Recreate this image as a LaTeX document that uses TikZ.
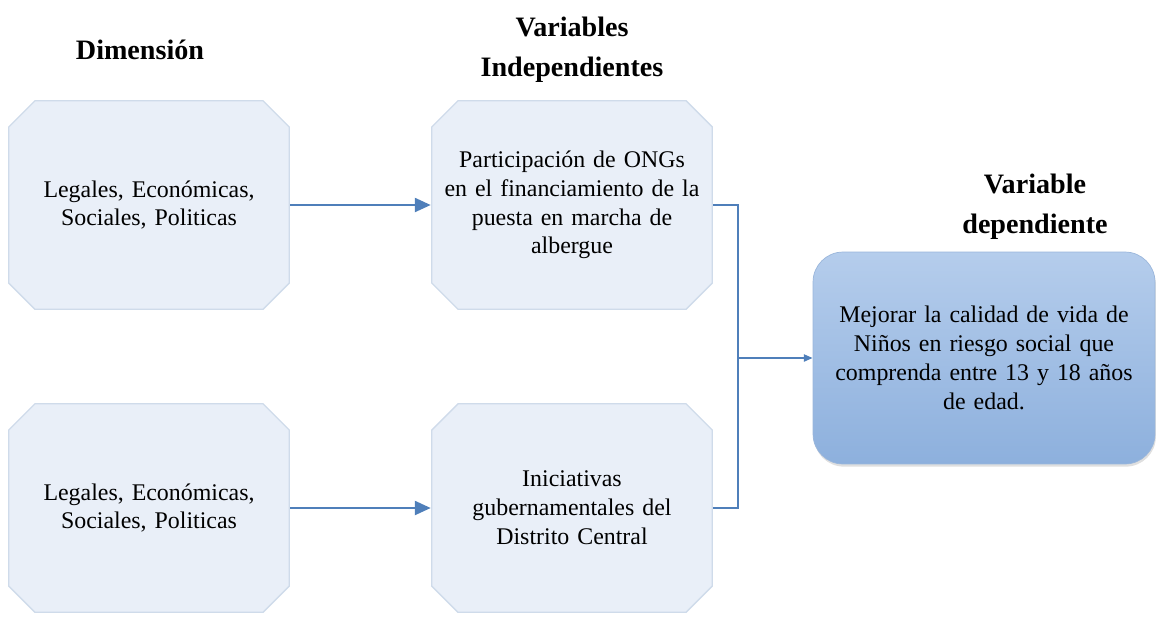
\documentclass[tikz,border=0pt]{standalone}
\usepackage{fontspec}
\setmainfont{Liberation Serif}
\usetikzlibrary{arrows.meta,shadows}
\definecolor{boxfill}{HTML}{E9EFF8}
\definecolor{boxline}{HTML}{CFDBEA}
\definecolor{deptop}{HTML}{B5CDEC}
\definecolor{depbot}{HTML}{8DB0DD}
\definecolor{depline}{HTML}{9AB6DB}
\definecolor{linkblue}{HTML}{4F7FBA}
\tikzset{
  dimbox/.style={rectangle, minimum width=5.64cm, minimum height=4.2cm,
    inner sep=0pt, align=center, text width=5.2cm,
    font=\fontsize{13.6}{16.4}\selectfont,
    path picture={
      \filldraw[fill=boxfill, draw=boxline, line width=0.8pt]
        ([xshift=0.54cm,yshift=-0.4pt]path picture bounding box.north west)
        -- ([xshift=-0.54cm,yshift=-0.4pt]path picture bounding box.north east)
        -- ([xshift=-0.4pt,yshift=-0.54cm]path picture bounding box.north east)
        -- ([xshift=-0.4pt,yshift=0.54cm]path picture bounding box.south east)
        -- ([xshift=-0.54cm,yshift=0.4pt]path picture bounding box.south east)
        -- ([xshift=0.54cm,yshift=0.4pt]path picture bounding box.south west)
        -- ([xshift=0.4pt,yshift=0.54cm]path picture bounding box.south west)
        -- ([xshift=0.4pt,yshift=-0.54cm]path picture bounding box.north west)
        -- cycle;
    }},
  depbox/.style={rectangle, rounded corners=0.6cm, draw=depline,
    top color=deptop, bottom color=depbot, minimum width=6.84cm,
    minimum height=4.24cm, inner sep=0pt, align=center, text width=6.2cm,
    font=\fontsize{13.6}{16.4}\selectfont,
    drop shadow={shadow xshift=0.5pt, shadow yshift=-1.5pt, opacity=0.25}},
  heading/.style={align=center, font=\fontsize{16}{22.7}\selectfont\bfseries},
  link/.style={draw=linkblue, line width=1.1pt},
  linkarrow/.style={link, -{Triangle[length=9pt,width=8pt]}},
  smallarrow/.style={link, -{Triangle[length=5pt,width=4pt]}}
}
\begin{document}
\begin{tikzpicture}[x=0.02cm,y=-0.02cm]
  \useasboundingbox (0,0) rectangle (1156,619);
  % column headings
  \node[heading] (hdim) at (140,50) {Dimensión};
  \node[heading] (hind) at (572,50) {Variables\\Independientes};
  \node[heading] (hdep) at (1035,207) {Variable\\dependiente};
  % boxes
  \node[dimbox] (dimtop) at (149,205) {Legales, Económicas,\\Sociales, Politicas};
  \node[dimbox] (dimbot) at (149,508) {Legales, Económicas,\\Sociales, Politicas};
  \node[dimbox] (ong) at (572,205) {Participación de ONGs\\en el financiamiento de la\\puesta en marcha de\\albergue};
  \node[dimbox] (gob) at (572,508) {Iniciativas\\gubernamentales del\\Distrito Central};
  \node[depbox] (dep) at (984,358) {Mejorar la calidad de vida de\\Niños en riesgo social que\\comprenda entre 13 y 18 años\\de edad.};
  % connectors
  \coordinate (join) at (738,358);
  \draw[linkarrow] (dimtop) -- (ong);
  \draw[linkarrow] (dimbot) -- (gob);
  \draw[link] (ong.east) -| (join) |- (gob.east);
  \draw[smallarrow] (join) -- (dep.west);
\end{tikzpicture}
\end{document}
